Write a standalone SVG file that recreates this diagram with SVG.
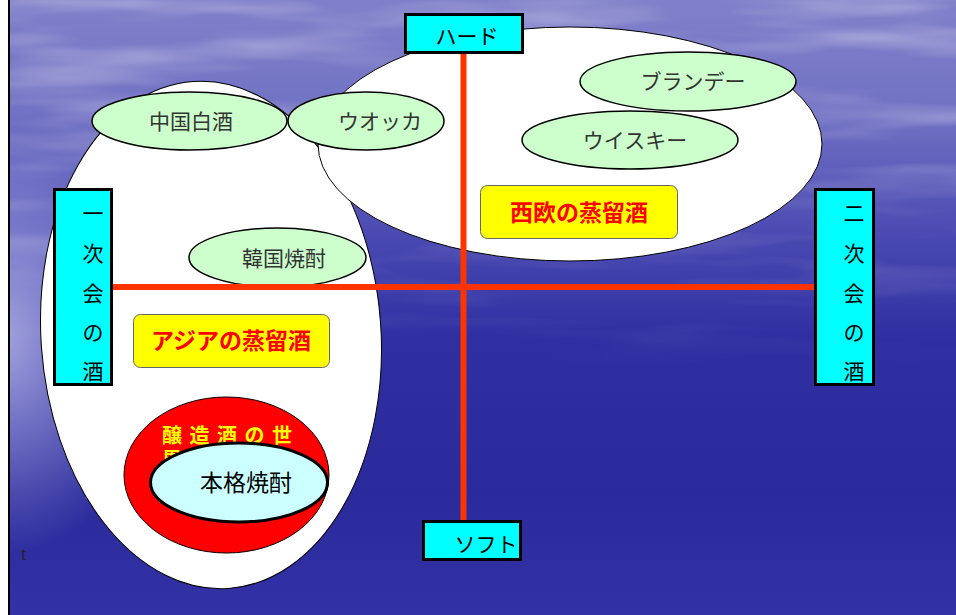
<svg xmlns="http://www.w3.org/2000/svg" width="956" height="615" viewBox="0 0 956 615">
<style>
.white{fill:#ffffff;stroke:#000;stroke-width:1}
.green{fill:#ccffcc;stroke:#000;stroke-width:1.5}
.cyan{fill:#00ffff;stroke:#000;stroke-width:3}
.yellow{fill:#ffff00;stroke:#666;stroke-width:1}
.axis{stroke:#ff3300;stroke-width:6;fill:none}
text{font-family:"Noto Sans CJK JP","Noto Sans CJK SC",sans-serif;text-anchor:middle}
.lbl{font-size:21px;fill:#333}
.box{font-size:21px;fill:#000}
.vt{font-size:21px;fill:#000;dominant-baseline:central}
.hot{font-size:23px;font-weight:bold;fill:#ff0000}
.brew{font-size:20px;font-weight:bold;fill:#ffff00;text-anchor:start;letter-spacing:7.5px}
.note{font-family:"Liberation Serif",serif;font-size:19px;fill:#222;text-anchor:start}
</style>
<defs>
<linearGradient id="bg" x1="0" y1="0" x2="0" y2="1">
<stop offset="0" stop-color="#8080ca"/>
<stop offset="0.18" stop-color="#7272c4"/>
<stop offset="0.38" stop-color="#4a4ab2"/>
<stop offset="0.55" stop-color="#2f2fa2"/>
<stop offset="0.8" stop-color="#2a2a9c"/>
<stop offset="1" stop-color="#3232a6"/>
</linearGradient>
<radialGradient id="glow" cx="0" cy="0.55" r="0.35" gradientTransform="scale(0.5,1)">
<stop offset="0" stop-color="#c0c0ee" stop-opacity="0.8"/>
<stop offset="1" stop-color="#c0c0ee" stop-opacity="0"/>
</radialGradient>
<linearGradient id="fade" x1="0" y1="0" x2="0" y2="1">
<stop offset="0" stop-color="#fff" stop-opacity="1"/>
<stop offset="0.45" stop-color="#fff" stop-opacity="0.4"/>
<stop offset="0.6" stop-color="#fff" stop-opacity="0"/>
</linearGradient>
<mask id="topmask"><rect width="956" height="615" fill="url(#fade)"/></mask>
<filter id="clouds" x="0" y="0" width="100%" height="100%">
<feTurbulence type="fractalNoise" baseFrequency="0.004 0.03" numOctaves="3" seed="7"/>
<feColorMatrix type="matrix" values="0 0 0 0 1  0 0 0 0 1  0 0 0 0 1  1.6 0 0 0 -0.75"/>
</filter>
</defs>

<g id="background">
<rect width="956" height="615" fill="url(#bg)"/>
<rect width="956" height="615" fill="url(#glow)"/>
<rect width="956" height="615" filter="url(#clouds)" mask="url(#topmask)" opacity="0.6"/>
<rect x="0" y="0" width="8" height="615" fill="#ffffff"/>
<line x1="9" y1="0" x2="9" y2="615" stroke="#000" stroke-width="2"/>
</g>

<g id="asia-region"><ellipse class="white" cx="211" cy="335" rx="170" ry="254" transform="rotate(-4 211 335)"/></g>
<g id="west-region"><ellipse class="white" cx="570" cy="144" rx="252" ry="117"/></g>

<g id="baijiu"><ellipse class="green" cx="189.5" cy="121" rx="97.5" ry="29"/><text class="lbl" x="191" y="129">中国白酒</text></g>
<g id="vodka"><ellipse class="green" cx="366" cy="121" rx="78" ry="29"/><text class="lbl" x="380" y="129">ウオッカ</text></g>
<g id="brandy"><ellipse class="green" cx="688" cy="81.5" rx="108" ry="29.5"/><text class="lbl" x="693" y="89">ブランデー</text></g>
<g id="whisky"><ellipse class="green" cx="630" cy="140" rx="108" ry="29"/><text class="lbl" x="635" y="148">ウイスキー</text></g>
<g id="soju"><ellipse class="green" cx="277.5" cy="257.5" rx="88.5" ry="29.5"/><text class="lbl" x="284" y="266">韓国焼酎</text></g>

<g id="connectors">
<line class="axis" x1="463.5" y1="53" x2="463.5" y2="520"/>
<line class="axis" x1="113" y1="287" x2="814" y2="287"/>
</g>

<g id="west-label"><rect class="yellow" x="480.5" y="185.5" width="197" height="53" rx="7"/><text class="hot" x="579" y="221">西欧の蒸留酒</text></g>
<g id="asia-label"><rect class="yellow" x="133.5" y="314.5" width="196" height="53" rx="7"/><text class="hot" x="231" y="349">アジアの蒸留酒</text></g>

<g id="brewed">
<ellipse cx="226.5" cy="475" rx="102.5" ry="78" fill="#ff0000" stroke="#000" stroke-width="1"/>
<text class="brew" x="162" y="443">醸造酒の世<tspan x="162" dy="24">界</tspan></text>
</g>
<g id="honkaku"><ellipse cx="239" cy="482.5" rx="88.5" ry="39.5" fill="#ccffff" stroke="#000" stroke-width="3"/><text x="246" y="491" font-size="23" fill="#000">本格焼酎</text></g>

<g id="hard"><rect class="cyan" x="405.5" y="14.5" width="117" height="38"/><text class="box" x="467" y="44">ハード</text></g>
<g id="soft"><rect class="cyan" x="423.5" y="521.5" width="97" height="38"/><text class="box" x="486" y="552">ソフト</text></g>
<g id="first-party"><rect class="cyan" x="54.5" y="189.5" width="57" height="195"/>
<text class="vt" x="93" y="212">一</text><text class="vt" x="93" y="252">次</text><text class="vt" x="93" y="292">会</text><text class="vt" x="93" y="331">の</text><text class="vt" x="93" y="370">酒</text></g>
<g id="second-party"><rect class="cyan" x="815.5" y="189.5" width="58" height="195"/>
<text class="vt" x="854" y="212">二</text><text class="vt" x="854" y="252">次</text><text class="vt" x="854" y="292">会</text><text class="vt" x="854" y="331">の</text><text class="vt" x="854" y="370">酒</text></g>

<text class="note" x="21" y="560">t</text>
</svg>
